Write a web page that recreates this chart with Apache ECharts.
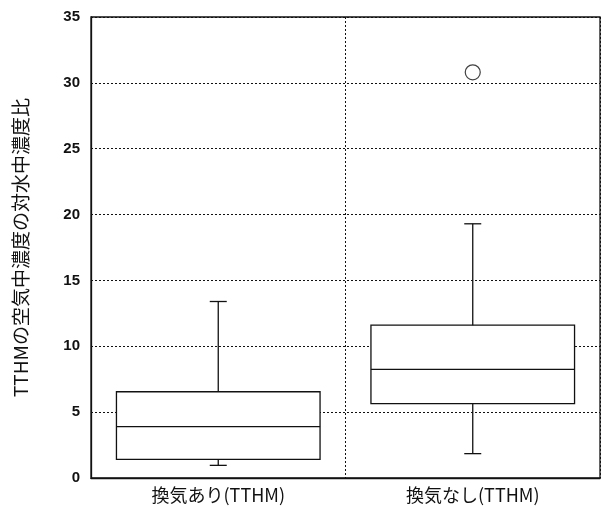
<!DOCTYPE html>
<html>
<head>
<meta charset="utf-8">
<script src="https://cdn.jsdelivr.net/npm/echarts@6/dist/echarts.min.js"></script>
<style>
html,body{margin:0;padding:0;background:#fff;}
#chart{width:606px;height:510px;}
</style>
</head>
<body>
<div id="chart"></div>
<script>
const categories = ['換気あり(TTHM)', '換気なし(TTHM)'];
const whiskerLow = [0.96, 1.85];
const quartile1 = [1.42, 5.64];
const medians = [3.9, 8.25];
const quartile3 = [6.55, 11.6];
const whiskerHigh = [13.4, 19.3];
const outliers = [[1, 30.8]];
const yTicks = [0, 5, 10, 15, 20, 25, 30, 35];
const yTitle = 'TTHMの空気中濃度の対水中濃度比';

const boxData = categories.map((c, i) => [i, whiskerLow[i], quartile1[i], medians[i], quartile3[i], whiskerHigh[i]]);

const chart = echarts.init(document.getElementById('chart'), null, {renderer: 'canvas'});
const ink = '#111';
chart.setOption({
  animation: false,
  backgroundColor: '#fff',
  grid: {left: 91, right: 6, top: 17, bottom: 32, show: true, borderColor: ink, borderWidth: 1.3},
  xAxis: {
    type: 'category', data: categories, boundaryGap: true,
    axisLine: {show: true, lineStyle: {color: ink, width: 1.3}},
    axisTick: {show: false},
    axisLabel: {color: ink, fontSize: 18, margin: 8, fontFamily: '"Noto Sans CJK JP", sans-serif'},
    splitLine: {show: true, lineStyle: {color: ink, type: [2, 2], width: 1}}
  },
  yAxis: {
    type: 'value', min: yTicks[0], max: yTicks[yTicks.length - 1], interval: 5,
    name: yTitle, nameLocation: 'middle', nameGap: 61,
    nameTextStyle: {color: ink, fontSize: 19, fontFamily: '"Noto Sans CJK JP", sans-serif'},
    axisLine: {show: true, lineStyle: {color: ink, width: 1.3}},
    axisTick: {show: false},
    axisLabel: {color: ink, fontSize: 15, margin: 11, fontWeight: 'bold', fontFamily: '"Liberation Sans", Arial, sans-serif'},
    splitLine: {show: true, lineStyle: {color: ink, type: [2, 2], width: 1}}
  },
  series: [
    {
      type: 'custom',
      data: boxData,
      encode: {x: 0, y: [1, 2, 3, 4, 5]},
      renderItem: function (params, api) {
        const idx = api.value(0);
        const band = api.size([1, 0])[0];
        const half = band * 0.4;
        const capHalf = 8.5;
        const pLow = api.coord([idx, api.value(1)]);
        const pQ1 = api.coord([idx, api.value(2)]);
        const pMed = api.coord([idx, api.value(3)]);
        const pQ3 = api.coord([idx, api.value(4)]);
        const pHigh = api.coord([idx, api.value(5)]);
        const x = pMed[0];
        const st = {stroke: ink, lineWidth: 1.3, fill: null};
        return {
          type: 'group',
          children: [
            {type: 'rect', shape: {x: x - half, y: pQ3[1], width: half * 2, height: pQ1[1] - pQ3[1]}, style: {stroke: ink, lineWidth: 1.3, fill: '#fff'}},
            {type: 'line', shape: {x1: x - half, y1: pMed[1], x2: x + half, y2: pMed[1]}, style: st},
            {type: 'line', shape: {x1: x, y1: pQ3[1], x2: x, y2: pHigh[1]}, style: st},
            {type: 'line', shape: {x1: x, y1: pQ1[1], x2: x, y2: pLow[1]}, style: st},
            {type: 'line', shape: {x1: x - capHalf, y1: pHigh[1], x2: x + capHalf, y2: pHigh[1]}, style: st},
            {type: 'line', shape: {x1: x - capHalf, y1: pLow[1], x2: x + capHalf, y2: pLow[1]}, style: st}
          ]
        };
      },
      z: 3
    },
    {
      type: 'scatter',
      data: outliers,
      symbol: 'circle',
      symbolSize: 15,
      itemStyle: {color: '#fff', borderColor: ink, borderWidth: 1.2},
      z: 4
    }
  ]
});
</script>
</body>
</html>
